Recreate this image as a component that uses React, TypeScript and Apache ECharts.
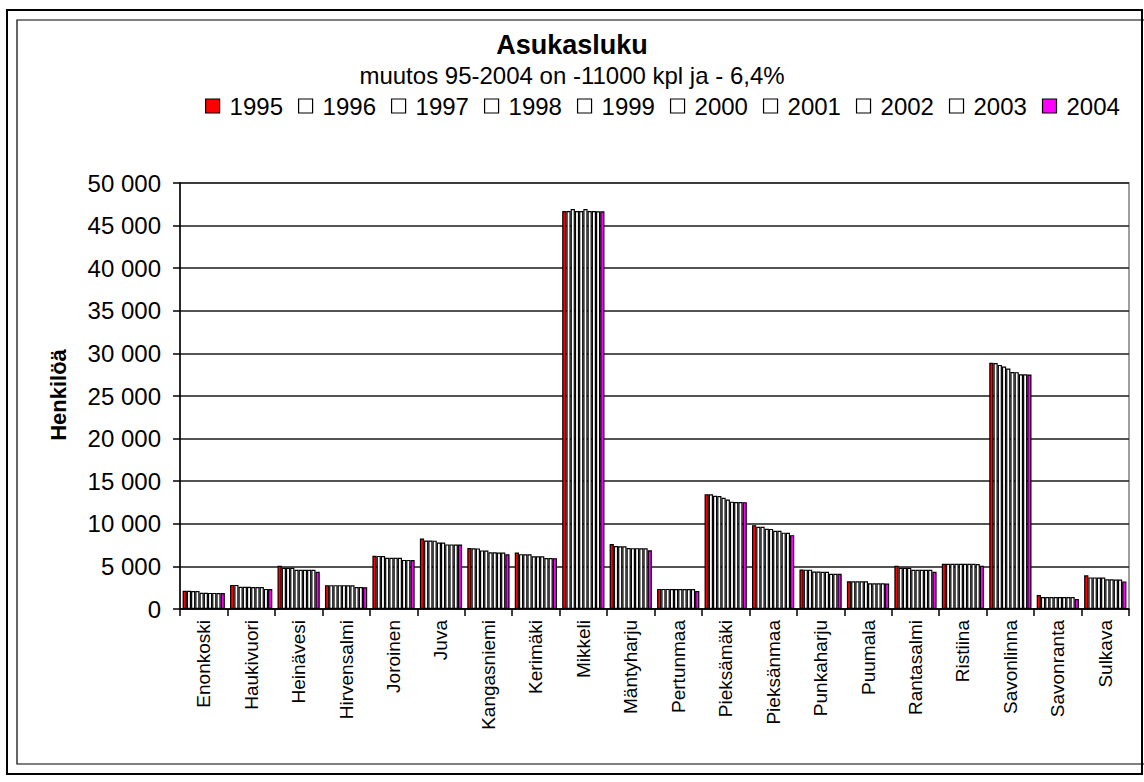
import React, { useEffect, useRef } from "react";
import * as echarts from "echarts";

const categories = [
  "Enonkoski", "Haukivuori", "Heinävesi", "Hirvensalmi", "Joroinen", "Juva",
  "Kangasniemi", "Kerimäki", "Mikkeli", "Mäntyharju", "Pertunmaa", "Pieksämäki",
  "Pieksänmaa", "Punkaharju", "Puumala", "Rantasalmi", "Ristiina", "Savonlinna",
  "Savonranta", "Sulkava",
];

const years = ["1995", "1996", "1997", "1998", "1999", "2000", "2001", "2002", "2003", "2004"];

const y1995 = [2130, 2830, 5080, 2800, 6240, 8260, 7150, 6640, 46700, 7620, 2360, 13480, 9840, 4630, 3260, 5080, 5310, 28900, 1640, 3950];
const y1996 = [2130, 2830, 4840, 2800, 6230, 8040, 7120, 6440, 46700, 7380, 2360, 13470, 9650, 4620, 3260, 4840, 5310, 28880, 1410, 3710];
const y1997 = [2120, 2600, 4840, 2800, 6220, 8030, 7110, 6430, 46950, 7370, 2360, 13280, 9640, 4620, 3250, 4840, 5310, 28650, 1410, 3710];
const y1998 = [2110, 2600, 4830, 2800, 6020, 8020, 6880, 6420, 46700, 7360, 2350, 13250, 9410, 4390, 3250, 4830, 5310, 28460, 1410, 3700];
const y1999 = [1900, 2600, 4610, 2800, 6020, 7810, 6870, 6200, 46700, 7150, 2350, 13050, 9400, 4390, 3250, 4610, 5310, 28230, 1410, 3700];
const y2000 = [1900, 2590, 4610, 2790, 6010, 7800, 6660, 6190, 46950, 7140, 2350, 12850, 9180, 4380, 3020, 4610, 5310, 27810, 1400, 3480];
const y2001 = [1890, 2590, 4600, 2790, 6010, 7580, 6650, 6180, 46700, 7140, 2350, 12600, 9170, 4380, 3020, 4600, 5300, 27800, 1400, 3480];
const y2002 = [1890, 2580, 4600, 2570, 5760, 7580, 6640, 5990, 46700, 7130, 2340, 12560, 8960, 4140, 3010, 4600, 5300, 27550, 1400, 3470];
const y2003 = [1880, 2360, 4600, 2570, 5760, 7570, 6620, 5980, 46680, 7130, 2340, 12550, 8950, 4140, 3010, 4600, 5290, 27540, 1400, 3470];
const y2004 = [1880, 2350, 4370, 2560, 5750, 7570, 6420, 5970, 46680, 6890, 2120, 12540, 8670, 4130, 3000, 4370, 5080, 27530, 1170, 3240];

const yearValues = [y1995, y1996, y1997, y1998, y1999, y2000, y2001, y2002, y2003, y2004];
const yearColors = ["#FF0000", "#FFFFFF", "#FFFFFF", "#FFFFFF", "#FFFFFF", "#FFFFFF", "#FFFFFF", "#FFFFFF", "#FFFFFF", "#FF00FF"];

const titleText = "Asukasluku";
const subtitleText = "muutos 95-2004 on -11000 kpl ja - 6,4%";
const yAxisTitle = "Henkilöä";

const FONT = "'Liberation Sans', Arial, sans-serif";

function fmt(v: number): string {
  const s = String(Math.round(v));
  return s.replace(/\B(?=(\d{3})+(?!\d))/g, " ");
}

export default function App() {
  const ref = useRef<HTMLDivElement>(null);

  useEffect(() => {
    document.body.style.margin = "0";
    if (!ref.current) return;
    const chart = echarts.init(ref.current, undefined, { renderer: "svg" });

    const series = years.map((yr, i) => ({
      name: yr,
      type: "bar",
      data: yearValues[i],
      barGap: "0%",
      barCategoryGap: "11%",
      itemStyle: { color: yearColors[i], borderColor: "#000", borderWidth: 1.2 },
    }));

    chart.setOption({
      animation: false,
      backgroundColor: "#fff",
      textStyle: { fontFamily: FONT, color: "#000" },
      title: {
        text: titleText,
        subtext: subtitleText,
        left: "center",
        top: 26,
        itemGap: 5,
        textStyle: { fontFamily: FONT, fontSize: 27, fontWeight: "bold", color: "#000" },
        subtextStyle: { fontFamily: FONT, fontSize: 24, color: "#000" },
      },
      legend: {
        data: years,
        left: 200,
        top: 89,
        icon: "rect",
        itemWidth: 14,
        itemHeight: 14,
        itemGap: 15,
        itemStyle: { borderColor: "#000", borderWidth: 1.2 },
        textStyle: { fontFamily: FONT, fontSize: 24, color: "#000", padding: [0, 0, 0, 5] },
      },
      grid: {
        left: 180,
        right: 15,
        top: 183,
        bottom: 173,
        show: true,
        borderColor: "#808080",
        borderWidth: 1.5,
      },
      xAxis: {
        type: "category",
        data: categories,
        axisLine: { lineStyle: { color: "#000", width: 1.5 } },
        axisTick: { show: true, length: 7, lineStyle: { color: "#000", width: 1.5 } },
        axisLabel: {
          interval: 0,
          rotate: 90,
          margin: 11,
          fontFamily: FONT,
          fontSize: 19,
          color: "#000",
        },
      },
      yAxis: {
        type: "value",
        min: 0,
        max: 50000,
        interval: 5000,
        axisLine: { show: true, lineStyle: { color: "#000", width: 1.5 } },
        axisTick: { show: true, length: 7, lineStyle: { color: "#000", width: 1.5 } },
        axisLabel: {
          margin: 19,
          fontFamily: FONT,
          fontSize: 24,
          color: "#000",
          formatter: (v: number) => fmt(v),
        },
        splitLine: { lineStyle: { color: "#1a1a1a", width: 1.5 } },
      },
      graphic: [
        {
          type: "rect",
          shape: { x: 7, y: 10, width: 1135, height: 764 },
          style: { fill: "none", stroke: "#000", lineWidth: 2 },
          silent: true,
        },
        {
          type: "rect",
          shape: { x: 17, y: 20, width: 1130, height: 744 },
          style: { fill: "none", stroke: "#000", lineWidth: 1.2 },
          silent: true,
        },
        {
          type: "text",
          x: 58,
          y: 395,
          rotation: Math.PI / 2,
          style: {
            text: yAxisTitle,
            fontFamily: FONT,
            fontSize: 22,
            fontWeight: "bold",
            fill: "#000",
            align: "center",
            verticalAlign: "middle",
          },
        },
      ],
      series,
    });

    return () => chart.dispose();
  }, []);

  return <div ref={ref} style={{ width: 1144, height: 782 }} />;
}
